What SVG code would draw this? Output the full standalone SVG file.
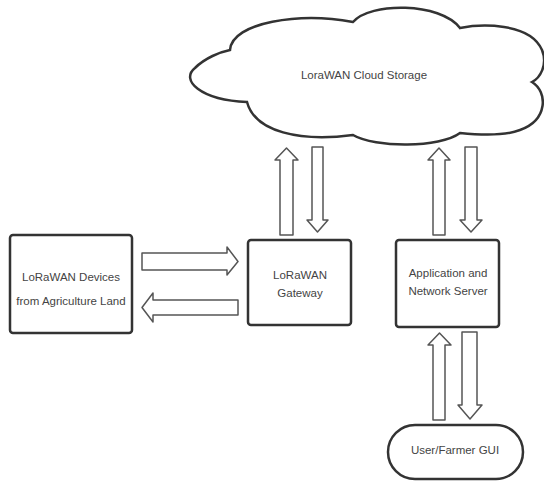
<svg xmlns="http://www.w3.org/2000/svg" width="544" height="482" viewBox="0 0 544 482">
<style>
.box{fill:#fff;stroke:#333;stroke-width:2.5}
.arr{fill:#fff;stroke:#555;stroke-width:1.5;stroke-linejoin:round}
.t{font-family:"Liberation Sans",Arial,sans-serif;font-size:11.5px;fill:#444;text-anchor:middle}
</style>
<rect width="544" height="482" fill="#fff"/>
<g id="cloud">
<path class="box" d="M230,50 C232,22 300,12 353,22 C370,2 440,2 460,28 C480,24 530,22 542,50 C548,65 540,78 532,82 C548,92 548,120 520,130 C505,136 480,135 460,133 C440,148 375,148 353,135 C300,142 255,132 247,102 C200,100 180,80 195,68 C205,58 220,52 230,50 Z"/>
<text class="t" x="364" y="79">LoraWAN Cloud Storage</text>
</g>
<g id="devices">
<rect class="box" x="10" y="235" width="122" height="98" rx="3"/>
<text class="t" x="71" y="281">LoRaWAN Devices</text>
<text class="t" x="71" y="305">from Agriculture Land</text>
</g>
<g id="gateway">
<rect class="box" x="248" y="240" width="103" height="85" rx="3"/>
<text class="t" x="300" y="279">LoRaWAN</text>
<text class="t" x="300" y="297">Gateway</text>
</g>
<g id="server">
<rect class="box" x="396" y="240" width="103" height="87" rx="3"/>
<text class="t" x="448" y="277">Application and</text>
<text class="t" x="448" y="295">Network Server</text>
</g>
<g id="gui">
<rect class="box" x="388" y="425" width="135" height="54" rx="27"/>
<text class="t" x="455" y="454">User/Farmer GUI</text>
</g>
<g id="connectors">
<path class="arr" d="M142,253 L227,253 L227,247 L238,261.5 L227,275 L227,270 L142,270 Z"/>
<path class="arr" d="M238,300 L153,300 L153,293 L142,307.5 L153,322 L153,315 L238,315 Z"/>
<path class="arr" d="M280,235 L280,160 L275,160 L286.5,148 L298,160 L293,160 L293,235 Z"/>
<path class="arr" d="M312,147 L323,147 L323,220 L328,220 L317.5,232 L307,220 L312,220 Z"/>
<path class="arr" d="M433,235 L433,160 L428,160 L439,148 L450,160 L445,160 L445,235 Z"/>
<path class="arr" d="M465,147 L477,147 L477,220 L482,220 L471,232 L460,220 L465,220 Z"/>
<path class="arr" d="M433,420 L433,345 L428,345 L439.5,333 L451,345 L445,345 L445,420 Z"/>
<path class="arr" d="M462,332 L477,332 L477,405 L482,405 L470,419 L458,405 L462,405 Z"/>
</g>
</svg>
